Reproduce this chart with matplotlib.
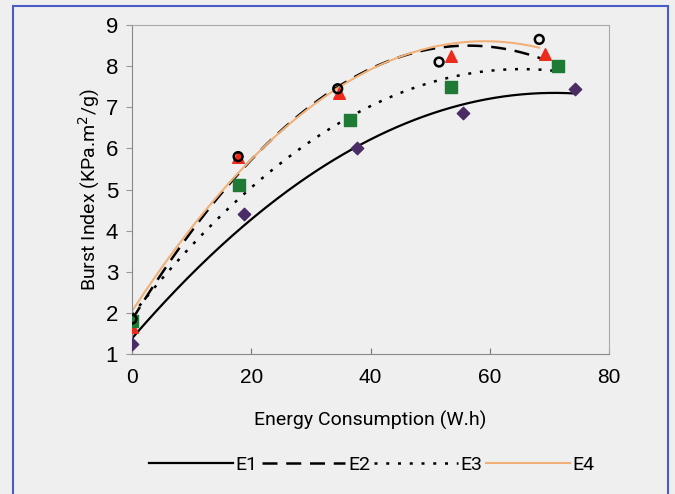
import numpy as np
import matplotlib
matplotlib.use("Agg")
import matplotlib.pyplot as plt
from matplotlib.patches import Rectangle

narrow = "Roboto"
regular = "Liberation Sans"

# data
e1_x = [0, 18.8, 37.7, 55.5, 74.3]
e1_y = [1.25, 4.4, 6.0, 6.85, 7.45]
e2_x = [0, 17.8, 34.7, 53.5, 69.3]
e2_y = [1.65, 5.8, 7.35, 8.25, 8.3]
e3_x = [0, 18.0, 36.5, 53.5, 71.5]
e3_y = [1.8, 5.1, 6.7, 7.5, 8.0]
e4_x = [0, 17.8, 34.5, 51.5, 68.3]
e4_y = [1.85, 5.8, 7.45, 8.1, 8.65]
labels = ["E1", "E2", "E3", "E4"]

BG = "#efefef"
fig = plt.figure(figsize=(6.75, 4.94), dpi=100, facecolor=BG)
ax = fig.add_axes([132/675, 1-354/494, (609-132)/675, (354-25)/494])
ax.set_facecolor(BG)

def trend(x, y, deg=2):
    c = np.polyfit(x, y, deg)
    xs = np.linspace(min(x), max(x), 200)
    return xs, np.polyval(c, xs)

l1, = ax.plot(*trend(e1_x, e1_y), color="black", lw=1.6, label="E1")
l2, = ax.plot(*trend(e2_x, e2_y), color="black", lw=1.8, ls=(0, (6, 3.5)), label="E2")
l3, = ax.plot(*trend(e3_x, e3_y), color="black", lw=1.8, ls=(0, (1.2, 3.5)), label="E3")
l4, = ax.plot(*trend(e4_x, e4_y), color="#f0b078", lw=1.5, label="E4")

ax.scatter(e1_x, e1_y, marker="D", s=40, color="#4a2c66", zorder=5)
ax.scatter(e2_x, e2_y, marker="^", s=70, color="#ee2a1c", zorder=5)
ax.scatter(e3_x, e3_y, marker="s", s=70, color="#1e7a34", zorder=5)
ax.scatter(e4_x, e4_y, marker="o", s=40, facecolor="none", edgecolor="black", lw=1.8, zorder=6)

ax.set_xlim(0, 80)
ax.set_ylim(1, 9)
ax.set_xticks([0, 20, 40, 60, 80])
ax.set_yticks(range(1, 10))
ax.tick_params(axis="x", direction="in", length=4, labelsize=15, pad=10, color="#777777")
ax.tick_params(axis="y", direction="out", length=4, labelsize=16, pad=6, color="#999999")
for t in ax.get_xticklabels() + ax.get_yticklabels():
    t.set_fontfamily(regular)
for s in ["left", "bottom"]:
    ax.spines[s].set_color("#888888")
for s in ["top", "right"]:
    ax.spines[s].set_color("#aaaaaa")

ax.set_xlabel("Energy Consumption (W.h)", fontsize=14, family=narrow)
ax.set_ylabel("Burst Index (KPa.m$^2$/g)", fontsize=14, family=narrow)
ax.xaxis.set_label_coords(0.5, (354-420)/329, transform=ax.transAxes)
ax.yaxis.set_label_coords((89-132)/477, 0.5, transform=ax.transAxes)
ax.xaxis.label.set_va("center")
ax.yaxis.label.set_va("center")

leg = fig.legend(handles=[l1, l2, l3, l4], labels=labels, loc="center",
                 bbox_to_anchor=(372/675, 1-465/494), ncol=4, frameon=False,
                 handlelength=4.3, handletextpad=0.15, columnspacing=0.2,
                 prop={"family": narrow, "size": 14})

fig.patches.append(Rectangle((13/675, -0.01), (668-13)/675, 1-6/494 + 0.01,
                             transform=fig.transFigure, fill=False,
                             edgecolor="#4a5cc8", lw=1.5))

fig.savefig("out.png", dpi=100, facecolor=BG)
